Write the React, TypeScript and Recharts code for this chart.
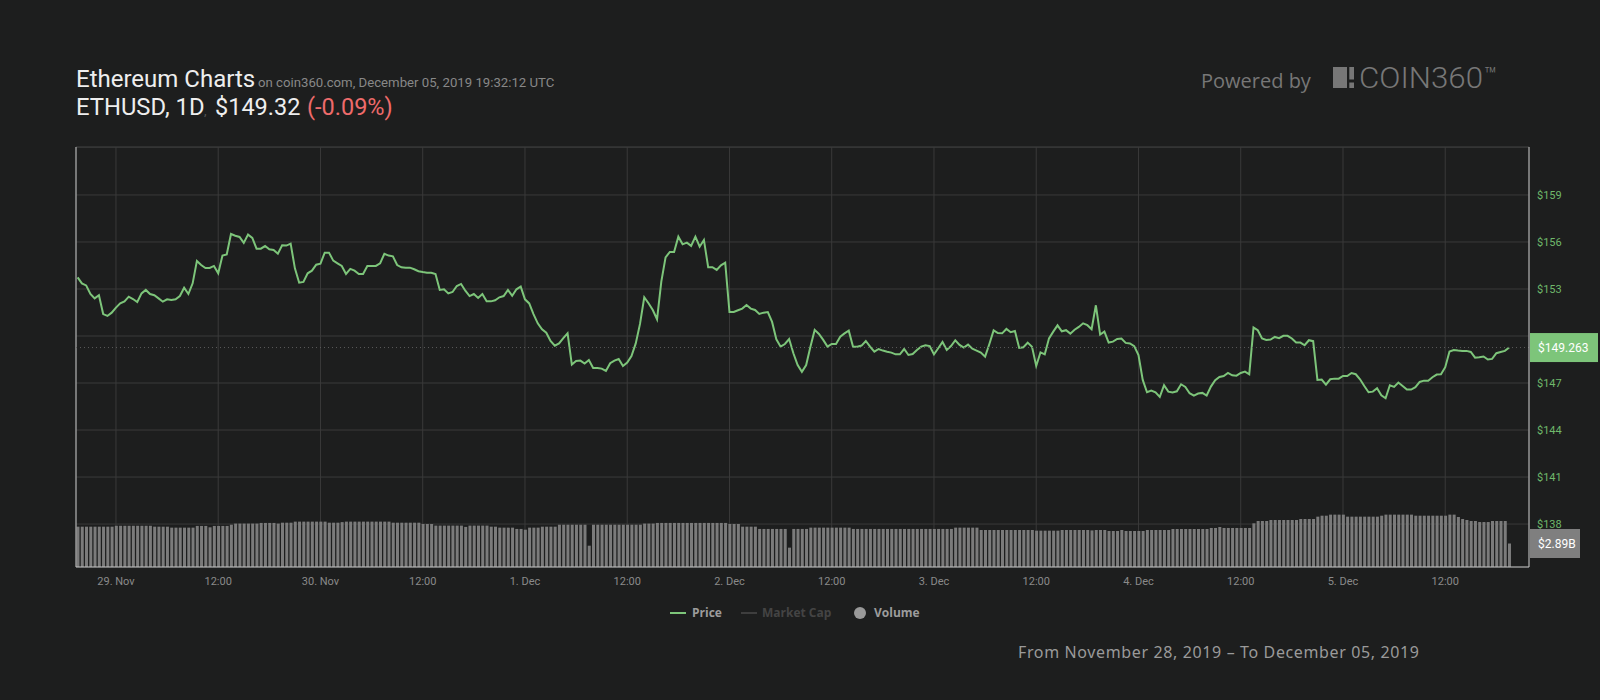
import React from 'react';
import { ComposedChart, Line, Bar, XAxis, YAxis, CartesianGrid, ReferenceLine } from 'recharts';

// time axis: hours relative to 29 Nov 2019 00:00 UTC, one point every 30 minutes
const START_HOUR = -4.5;
const STEP_HOURS = 0.5;

const PRICE = [
  153.74, 153.36, 153.23, 152.68, 152.40, 152.60, 151.40, 151.28, 151.49, 151.81,
  152.08, 152.21, 152.51, 152.36, 152.17, 152.72, 152.94, 152.68, 152.60, 152.40,
  152.19, 152.34, 152.30, 152.34, 152.55, 153.08, 152.68, 153.36, 154.79, 154.53,
  154.34, 154.34, 154.47, 154.00, 155.13, 155.21, 156.51, 156.40, 156.32, 155.94,
  156.47, 156.26, 155.57, 155.57, 155.74, 155.53, 155.49, 155.25, 155.79, 155.77,
  155.89, 154.32, 153.40, 153.45, 154.00, 154.17, 154.55, 154.62, 155.32, 155.32,
  154.81, 154.64, 154.47, 153.96, 154.28, 154.17, 153.96, 153.96, 154.47, 154.47,
  154.47, 154.64, 155.25, 155.13, 155.08, 154.53, 154.38, 154.36, 154.36, 154.26,
  154.13, 154.08, 154.04, 154.04, 153.96, 152.94, 152.98, 152.72, 152.81, 153.19,
  153.32, 152.89, 152.55, 152.68, 152.43, 152.68, 152.21, 152.21, 152.28, 152.47,
  152.55, 152.94, 152.57, 152.98, 153.15, 152.34, 152.08, 151.40, 150.81, 150.43,
  150.21, 149.68, 149.38, 149.53, 149.86, 150.17, 148.18, 148.40, 148.43, 148.24,
  148.47, 147.96, 147.96, 147.92, 147.77, 148.26, 148.43, 148.53, 148.09, 148.30,
  148.72, 149.53, 150.77, 152.47, 152.09, 151.66, 151.07, 153.47, 155.02, 155.36,
  155.36, 156.34, 155.85, 155.96, 155.75, 156.34, 155.70, 156.13, 154.39, 154.39,
  154.22, 154.51, 154.68, 151.53, 151.53, 151.64, 151.75, 151.98, 151.75, 151.66,
  151.41, 151.49, 151.53, 150.90, 149.79, 149.32, 149.49, 149.81, 148.90, 148.15,
  147.71, 148.15, 149.32, 150.39, 150.13, 149.75, 149.32, 149.49, 149.49, 149.96,
  150.17, 150.34, 149.32, 149.32, 149.39, 149.68, 149.32, 149.00, 149.17, 149.07,
  149.00, 148.94, 148.83, 148.83, 149.17, 148.79, 148.85, 149.11, 149.32, 149.41,
  149.36, 148.83, 149.22, 149.62, 149.11, 149.36, 149.73, 149.43, 149.26, 149.45,
  149.19, 149.07, 148.94, 148.68, 149.49, 150.36, 150.19, 150.17, 150.45, 150.24,
  150.32, 149.24, 149.28, 149.58, 149.32, 148.09, 148.96, 148.83, 149.85, 150.28,
  150.68, 150.30, 150.37, 150.15, 150.40, 150.58, 150.81, 150.69, 150.43, 151.96,
  150.09, 150.28, 149.58, 149.64, 149.81, 149.84, 149.56, 149.52, 149.35, 148.79,
  147.20, 146.41, 146.52, 146.41, 146.11, 146.86, 146.45, 146.39, 146.47, 146.92,
  146.75, 146.35, 146.20, 146.33, 146.37, 146.20, 146.77, 147.18, 147.39, 147.45,
  147.64, 147.49, 147.47, 147.64, 147.73, 147.56, 150.54, 150.37, 149.84, 149.75,
  149.77, 149.94, 149.86, 150.01, 150.01, 149.84, 149.58, 149.58, 149.41, 149.73,
  149.67, 147.20, 147.22, 146.90, 147.24, 147.28, 147.28, 147.45, 147.45, 147.64,
  147.56, 147.24, 146.81, 146.41, 146.45, 146.67, 146.22, 146.03, 146.86, 146.75,
  147.03, 146.81, 146.58, 146.58, 146.73, 147.07, 147.15, 147.15, 147.37, 147.54,
  147.56, 148.01, 149.01, 149.11, 149.07, 149.05, 149.05, 148.98, 148.62, 148.64,
  148.69, 148.50, 148.54, 148.90, 148.98, 149.05, 149.263,
];

// volume in billions USD
const VOLUME_B = [
  4.96, 4.96, 4.96, 4.96, 4.96, 4.96, 4.96, 4.96, 4.96, 5.07,
  5.07, 5.07, 5.07, 5.07, 5.07, 5.07, 5.07, 5.07, 4.96, 4.96,
  4.96, 4.96, 4.84, 4.84, 4.84, 4.84, 4.84, 4.84, 5.05, 5.05,
  5.05, 4.88, 5.05, 5.05, 5.05, 5.05, 5.20, 5.34, 5.34, 5.34,
  5.34, 5.34, 5.34, 5.42, 5.42, 5.42, 5.42, 5.34, 5.45, 5.45,
  5.45, 5.58, 5.58, 5.58, 5.58, 5.58, 5.58, 5.58, 5.58, 5.45,
  5.45, 5.45, 5.52, 5.58, 5.58, 5.58, 5.58, 5.58, 5.58, 5.58,
  5.58, 5.58, 5.58, 5.58, 5.45, 5.45, 5.45, 5.45, 5.45, 5.45,
  5.45, 5.29, 5.29, 5.29, 5.09, 5.09, 5.09, 5.09, 5.09, 5.09,
  5.09, 4.93, 5.09, 5.09, 5.09, 5.09, 5.09, 4.96, 4.96, 4.84,
  4.84, 4.84, 4.84, 4.68, 4.68, 4.59, 4.84, 4.84, 4.84, 4.96,
  4.96, 4.96, 4.96, 5.20, 5.20, 5.20, 5.20, 5.20, 5.20, 5.20,
  2.62, 5.20, 5.20, 5.20, 5.20, 5.20, 5.20, 5.20, 5.20, 5.20,
  5.20, 5.20, 5.20, 5.34, 5.34, 5.34, 5.42, 5.42, 5.42, 5.42,
  5.42, 5.42, 5.42, 5.42, 5.42, 5.42, 5.42, 5.42, 5.42, 5.42,
  5.42, 5.42, 5.42, 5.29, 5.29, 5.29, 4.96, 4.96, 4.96, 4.96,
  4.68, 4.68, 4.68, 4.68, 4.68, 4.68, 4.68, 2.38, 4.68, 4.68,
  4.68, 4.68, 4.84, 4.84, 4.84, 4.84, 4.84, 4.84, 4.84, 4.84,
  4.84, 4.84, 4.68, 4.68, 4.68, 4.68, 4.68, 4.68, 4.68, 4.68,
  4.68, 4.68, 4.68, 4.68, 4.68, 4.68, 4.68, 4.68, 4.68, 4.68,
  4.68, 4.68, 4.68, 4.68, 4.68, 4.68, 4.84, 4.84, 4.84, 4.84,
  4.84, 4.84, 4.55, 4.55, 4.55, 4.55, 4.55, 4.55, 4.55, 4.55,
  4.55, 4.55, 4.55, 4.55, 4.55, 4.47, 4.47, 4.47, 4.47, 4.47,
  4.47, 4.55, 4.55, 4.55, 4.55, 4.55, 4.55, 4.55, 4.50, 4.55,
  4.55, 4.55, 4.43, 4.43, 4.43, 4.55, 4.43, 4.43, 4.43, 4.43,
  4.43, 4.55, 4.55, 4.55, 4.55, 4.55, 4.55, 4.67, 4.67, 4.67,
  4.67, 4.67, 4.67, 4.67, 4.67, 4.67, 4.80, 4.80, 4.92, 4.80,
  4.80, 4.80, 4.80, 4.80, 4.80, 4.80, 5.37, 5.66, 5.66, 5.66,
  5.78, 5.78, 5.78, 5.78, 5.78, 5.78, 5.78, 5.90, 5.90, 5.90,
  5.90, 6.19, 6.31, 6.31, 6.44, 6.44, 6.44, 6.44, 6.19, 6.19,
  6.19, 6.19, 6.19, 6.19, 6.19, 6.19, 6.31, 6.44, 6.44, 6.44,
  6.44, 6.44, 6.44, 6.44, 6.31, 6.31, 6.31, 6.31, 6.31, 6.31,
  6.31, 6.31, 6.44, 6.44, 6.15, 5.90, 5.78, 5.66, 5.66, 5.53,
  5.53, 5.53, 5.66, 5.66, 5.66, 5.66, 2.89,
];

const X_TICKS = [0, 12, 24, 36, 48, 60, 72, 84, 96, 108, 120, 132, 144, 156];
const X_TICK_LABELS = [
  '29. Nov', '12:00', '30. Nov', '12:00', '1. Dec', '12:00', '2. Dec',
  '12:00', '3. Dec', '12:00', '4. Dec', '12:00', '5. Dec', '12:00',
];
const PRICE_TICKS = [138, 141, 144, 147, 150, 153, 156, 159];
const HIDDEN_PRICE_TICK = 150; // covered by the last-price tag
const LAST_PRICE = 149.263;
const LAST_VOLUME_B = 2.89;

const X_DOMAIN = [-4.69, 165.83];
const PRICE_DOMAIN = [135.26, 162.06];
const VOLUME_DOMAIN = [0, 51.65];

const BG = '#1d1e1e';
const GRID = '#3a3a3a';
const FRAME = '#c4c4c4';
const GREEN = '#7dc57a';
const VOL = '#7b7b7b';

const data = PRICE.map((p, i) => ({
  t: START_HOUR + i * STEP_HOURS,
  price: p,
  volume: VOLUME_B[i],
}));

function ValueTag(props: any) {
  const vb = props.viewBox || {};
  const x = (vb.x || 0) + (vb.width || 0) + 1;
  const y = vb.y || 0;
  return (
    <g>
      <rect x={x} y={y - 14.5} width={props.w} height={29} fill={props.bg} />
      <text x={x + 8} y={y + 4.5} fill="#ffffff" fontSize={12} fontFamily="Roboto">
        {props.text}
      </text>
    </g>
  );
}

export default function App() {
  return (
    <div style={{ position: 'fixed', left: 0, top: 0, width: 1600, height: 700, background: BG, overflow: 'hidden' }}>
      <ComposedChart
        width={1600}
        height={700}
        data={data}
        margin={{ top: 147, left: 76, right: 0, bottom: 0 }}
      >
        <CartesianGrid stroke={GRID} yAxisId="price" />
        <XAxis
          type="number"
          dataKey="t"
          domain={X_DOMAIN}
          allowDataOverflow
          ticks={X_TICKS}
          interval={0}
          height={133}
          tickLine={false}
          tickMargin={4}
          axisLine={{ stroke: FRAME }}
          tick={{ fill: '#8a8a8a', fontSize: 11, fontFamily: 'Roboto' }}
          tickFormatter={(v: number) => X_TICK_LABELS[X_TICKS.indexOf(v)] ?? ''}
        />
        <YAxis
          yAxisId="price"
          orientation="right"
          domain={PRICE_DOMAIN}
          allowDataOverflow
          ticks={PRICE_TICKS}
          interval={0}
          width={71}
          tickLine={false}
          axisLine={{ stroke: FRAME }}
          tick={{ fill: '#6fb86b', fontSize: 11, fontFamily: 'Roboto' }}
          tickFormatter={(v: number) => (v === HIDDEN_PRICE_TICK ? '' : '$' + v)}
        />
        <YAxis yAxisId="vol" hide domain={VOLUME_DOMAIN} allowDataOverflow />
        <ReferenceLine yAxisId="price" y={162.05} stroke={GRID} />
        <ReferenceLine yAxisId="price" x={X_DOMAIN[0]} stroke={FRAME} />
        <Bar
          yAxisId="vol"
          dataKey="volume"
          fill={VOL}
          barSize={3}
          isAnimationActive={false}
        />
        <Line
          yAxisId="price"
          type="linear"
          dataKey="price"
          stroke={GREEN}
          strokeWidth={2}
          dot={false}
          activeDot={false}
          isAnimationActive={false}
        />
        <ReferenceLine
          yAxisId="price"
          y={LAST_PRICE}
          stroke="#5c5c5c"
          strokeDasharray="1 3"
          label={<ValueTag text={'$' + LAST_PRICE} w={68} bg={GREEN} />}
        />
        <ReferenceLine
          yAxisId="vol"
          y={LAST_VOLUME_B}
          stroke="none"
          strokeOpacity={0}
          label={<ValueTag text={'$' + LAST_VOLUME_B + 'B'} w={50} bg="#7f7f7f" />}
        />
      </ComposedChart>
      <svg width={1600} height={700} style={{ position: 'absolute', left: 0, top: 0, pointerEvents: 'none' }}>
        <text x={76} y={87} fontFamily="Roboto" fontSize={24} fill="#eeeeee">Ethereum Charts</text>
        <text x={258} y={86.5} fontFamily="Roboto" fontSize={13.2} fill="#888888">
          on coin360.com, December 05, 2019 19:32:12 UTC
        </text>
        <text x={76} y={115} fontFamily="Roboto" fontSize={23.8} fill="#eeeeee">ETHUSD, 1D</text>
        <text x={204} y={115} fontFamily="Roboto" fontSize={13} fill="#555555">,</text>
        <text x={215} y={115} fontFamily="Roboto" fontSize={23.5} fill="#eeeeee">$149.32</text>
        <text x={307} y={115} fontFamily="Roboto" fontSize={23.5} fill="#ee6b6b">(-0.09%)</text>

        <text x={1201} y={88} fontFamily="Open Sans" fontSize={20} fill="#777777">Powered by</text>
        <rect x={1333} y={67} width={14} height={21} fill="#777777" />
        <rect x={1349.3} y={67} width={4.7} height={12.5} fill="#777777" />
        <rect x={1349.3} y={82.5} width={4.7} height={5.5} fill="#777777" />
        <text x={1359} y={88} fontFamily="Roboto" fontWeight={300} fontSize={29} fill="#777777" textLength={124} lengthAdjust="spacingAndGlyphs">COIN360</text>
        <text x={1484} y={82} fontFamily="Roboto" fontWeight={300} fontSize={21} fill="#777777">™</text>

        <line x1={670} y1={613} x2={686} y2={613} stroke={GREEN} strokeWidth={2} />
        <text x={692} y={617} fontFamily="Open Sans" fontWeight={700} fontSize={12} fill="#9c9c9c">Price</text>
        <line x1={741} y1={613} x2={757} y2={613} stroke="#3e3e3e" strokeWidth={2} />
        <text x={762} y={617} fontFamily="Open Sans" fontWeight={700} fontSize={12} fill="#444444">Market Cap</text>
        <circle cx={860} cy={613} r={6} fill="#999999" />
        <text x={874} y={617} fontFamily="Open Sans" fontWeight={700} fontSize={12} fill="#9c9c9c">Volume</text>

        <text x={1018} y={658} fontFamily="Noto Sans" fontSize={16} fill="#9a9a9a" textLength={401} lengthAdjust="spacing">
          From November 28, 2019 – To December 05, 2019
        </text>
      </svg>
    </div>
  );
}
